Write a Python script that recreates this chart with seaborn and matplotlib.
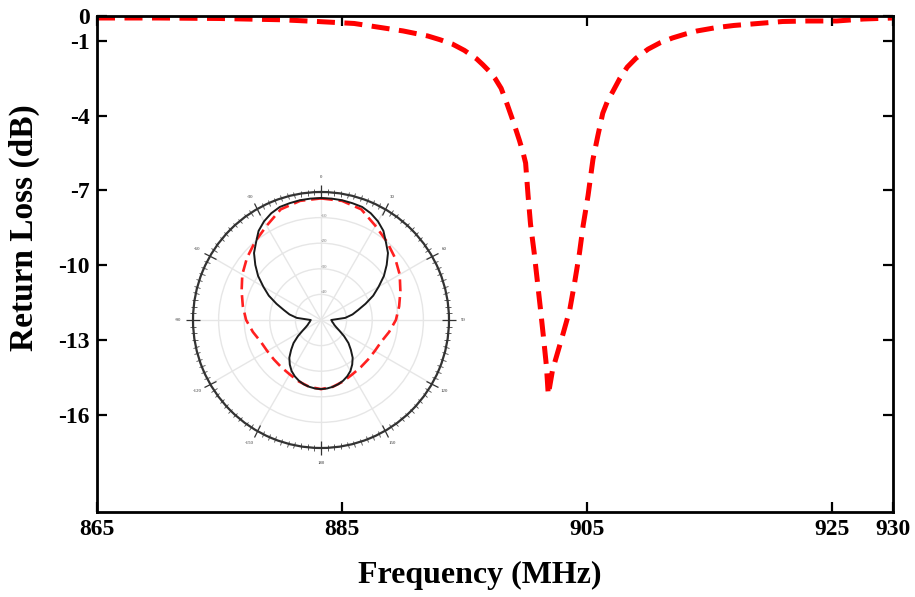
import numpy as np
import matplotlib
matplotlib.use("Agg")
import matplotlib.pyplot as plt
import matplotlib.ticker as mticker
import seaborn as sns

# Measured return loss of the antenna
freq_mhz = [865, 870, 875, 880, 883, 886, 888, 890, 891, 892, 893, 894, 895,
            896, 896.5, 897, 897.5, 898, 898.5, 899, 899.5, 899.8, 900.0,
            900.2, 900.4, 900.7, 900.95, 901.2, 901.45, 901.7, 901.85, 902.2,
            903.0, 903.6, 904.0, 904.4, 904.7, 905.1, 905.5, 905.9, 906.3,
            906.7, 907.1, 907.7, 908.3, 909, 910, 911, 912, 913, 914, 915.5,
            917, 919, 921, 923, 925.4, 927.6, 930]
return_loss_db = [-0.08, -0.08, -0.1, -0.15, -0.22, -0.3, -0.45, -0.6, -0.7,
                  -0.8, -0.95, -1.12, -1.38, -1.72, -1.95, -2.2, -2.5, -2.9,
                  -3.55, -4.25, -5.0, -5.5, -5.9, -7.2, -8.35, -9.5, -10.6,
                  -11.7, -12.85, -14.05, -15.2, -14.2, -12.85, -11.8, -10.7,
                  -9.5, -8.4, -7.2, -5.75, -4.8, -3.9, -3.4, -3.05, -2.5,
                  -2.05, -1.7, -1.33, -1.07, -0.88, -0.73, -0.6, -0.47, -0.38,
                  -0.3, -0.22, -0.2, -0.2, -0.12, -0.08]

x_ticks = [865, 885, 905, 925, 930]
y_ticks = [0, -1, -4, -7, -10, -13, -16]

# Radiation patterns (normalised radius), theta from 0 (top) to 180 deg
pattern_black_theta = list(range(0, 181, 5))
pattern_black_r = [0.953, 0.952, 0.95, 0.945, 0.94, 0.92, 0.89, 0.85, 0.79,
                   0.74, 0.67, 0.60, 0.52, 0.45, 0.37, 0.30, 0.25, 0.19, 0.08,
                   0.085, 0.09, 0.10, 0.11, 0.13, 0.165, 0.22, 0.28, 0.33,
                   0.385, 0.425, 0.46, 0.485, 0.505, 0.52, 0.53, 0.537, 0.54]
pattern_red_theta = list(range(0, 181, 10))
pattern_red_r = [0.95, 0.945, 0.92, 0.85, 0.80, 0.755, 0.71, 0.66, 0.62,
                 0.585, 0.54, 0.50, 0.485, 0.48, 0.482, 0.49, 0.51, 0.53, 0.54]

polar_angle_labels = ["0", "30", "60", "90", "120", "150", "180",
                      "-150", "-120", "-90", "-60", "-30"]
polar_ring_labels = ["-40", "-30", "-20", "-10"]

sns.set_style("white")
plt.rcParams["font.family"] = ["Liberation Serif", "DejaVu Serif"]
plt.rcParams["text.color"] = "black"
plt.rcParams["axes.labelcolor"] = "black"

fig = plt.figure(figsize=(9.15, 5.97), dpi=100)
ax = fig.add_axes([97 / 915, 85 / 597, 796 / 915, 496 / 597])

sns.lineplot(x=freq_mhz, y=return_loss_db, ax=ax, color="#ff0000",
             linewidth=3.6, linestyle=(0, (3.6, 1.9)), sort=False,
             estimator=None)

ax.set_xlim(865, 930)
ax.set_ylim(-19.9, 0)
ax.set_xticks(x_ticks)
ax.set_xticklabels([str(v) for v in x_ticks])
ax.set_yticks(y_ticks)
ax.set_yticklabels([str(v) for v in y_ticks])
ax.tick_params(direction="in", length=7, width=1.6, top=True, right=True,
               bottom=True, left=True, labelsize=17, colors="black",
               labelcolor="black", pad=5)
for lab in ax.get_xticklabels() + ax.get_yticklabels():
    lab.set_fontweight("bold")
for sp in ax.spines.values():
    sp.set_visible(True)
    sp.set_color("black")
    sp.set_linewidth(2.0)

ax.set_xlabel("Frequency (MHz)", fontsize=23, fontweight="bold",
              color="black")
ax.set_ylabel("Return Loss (dB)", fontsize=24, fontweight="bold",
              color="black")
ax.xaxis.set_label_coords(0.481, -0.098)
ax.yaxis.set_label_coords(-0.072, 0.573)

# Inset radiation pattern
pax = fig.add_axes([193 / 915, (597 - 451) / 597, 256 / 915, 262 / 597],
                   projection="polar")
pax.set_facecolor("white")
pax.set_theta_zero_location("N")
pax.set_theta_direction(-1)

bt = np.deg2rad(pattern_black_theta)
br = np.array(pattern_black_r)
th_b = np.concatenate([bt, 2 * np.pi - bt[::-1]])
r_b = np.concatenate([br, br[::-1]])
rt = np.deg2rad(pattern_red_theta)
rr = np.array(pattern_red_r)
th_r = np.concatenate([rt, 2 * np.pi - rt[::-1]])
r_r = np.concatenate([rr, rr[::-1]])

pax.plot(th_r, r_r, color="#ff2020", linewidth=1.9,
         linestyle=(0, (4.5, 2.2)))
pax.plot(th_b, r_b, color="#1a1a1a", linewidth=1.4)

pax.set_ylim(0, 1)
pax.set_rgrids([0.2, 0.4, 0.6, 0.8], labels=polar_ring_labels, angle=0,
               fontsize=3.5, color="#777777")
pax.set_thetagrids(np.arange(0, 360, 30), labels=polar_angle_labels,
                   fontsize=3.5, color="#444444")
pax.grid(True, color="#e6e6e6", linewidth=1.0)
pax.spines["polar"].set_color("#333333")
pax.spines["polar"].set_linewidth(1.6)
pax.xaxis.set_minor_locator(mticker.FixedLocator(np.deg2rad(np.arange(0, 360, 3))))
pax.tick_params(axis="x", which="major", direction="inout", length=5,
                width=0.9, colors="#333333", pad=1, bottom=False, top=True)
pax.tick_params(axis="x", which="minor", direction="inout", length=2.2,
                width=0.6, colors="#444444", bottom=False, top=True)
pax.tick_params(axis="y", pad=0)

fig.savefig("out.png", dpi=100)
